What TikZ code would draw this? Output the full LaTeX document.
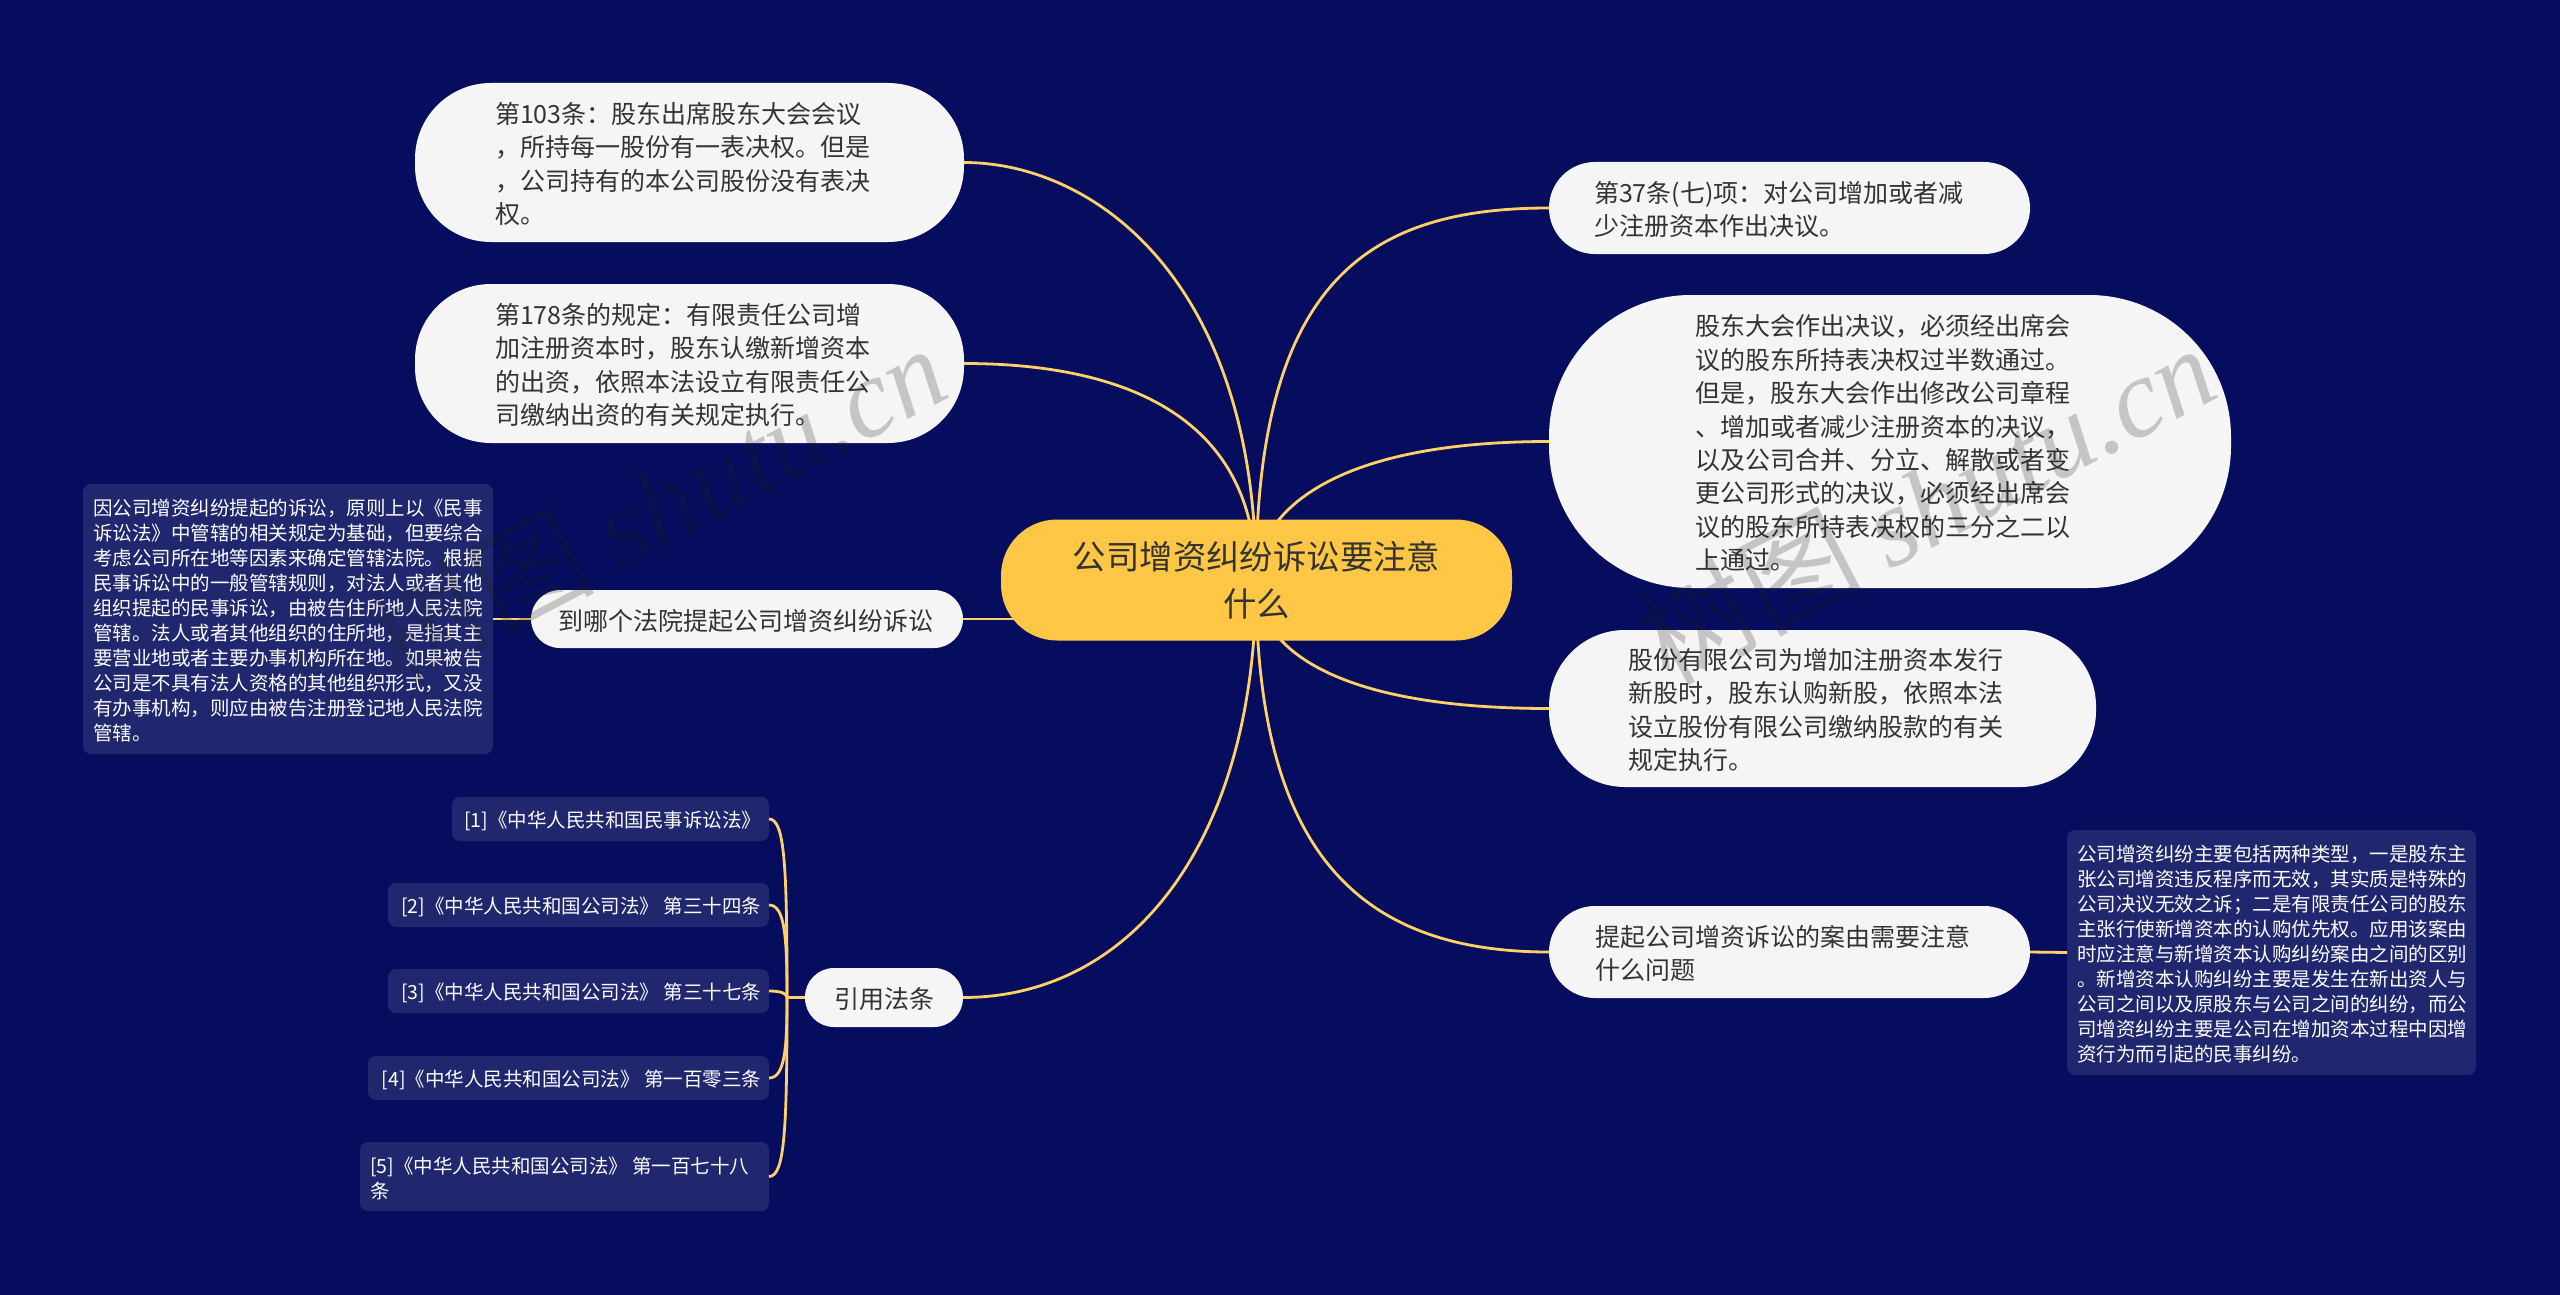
\documentclass[tikz,border=0pt]{standalone}
\usepackage{fontspec}
\setmainfont{Noto Sans CJK SC}
\newfontfamily\wmlatin{Liberation Serif}
\usetikzlibrary{calc}
\definecolor{bgnavy}{HTML}{060D5E}
\definecolor{rootgold}{HTML}{FFC745}
\definecolor{linegold}{HTML}{FFD166}
\definecolor{boxwhite}{HTML}{F5F5F5}
\definecolor{noteblue}{HTML}{20276F}
\definecolor{inkdark}{HTML}{333333}
\definecolor{wmgray}{HTML}{1E1E1E}
\tikzset{
  x=1pt,y=-1pt,
  base/.style={rectangle,inner sep=0pt,outer sep=0pt},
  pill/.style={base,fill=boxwhite,text=inkdark,font=\fontsize{25pt}{33.4pt}\selectfont},
  notebox/.style={base,fill=noteblue,text=white,rounded corners=8pt,font=\fontsize{19.5pt}{25pt}\selectfont},
  rootbox/.style={base,fill=rootgold,text=inkdark,rounded corners=56pt,align=center,font=\fontsize{33.4pt}{47pt}\selectfont},
  link/.style={draw=linegold,line width=2.8pt},
  wm/.style={rotate=27.7,text=wmgray,opacity=0.22,inner sep=0pt,font=\fontsize{112pt}{112pt}\selectfont},
}
% name, x1, y1, x2, y2, radius, pad, style, text
\newcommand{\bx}[9]{%
  \pgfmathsetmacro{\bw}{#4-#2}\pgfmathsetmacro{\bh}{#5-#3}\pgfmathsetmacro{\tw}{#4-#2-2*#7}%
  \node[#8,rounded corners=#6pt,minimum width=\bw pt,minimum height=\bh pt] (#1) at ({(#2+#4)/2},{(#3+#5)/2}) {\raisebox{-1.5pt}[\height][\depth]{\parbox[c]{\tw pt}{\raggedright #9}}};}
\begin{document}
\begin{tikzpicture}
\useasboundingbox[fill=bgnavy] (0,0) rectangle (2560,1295);

\bx{a}{415}{83}{964}{242}{76}{80}{pill}{第103条：股东出席股东大会会议\\，所持每一股份有一表决权。但是\\，公司持有的本公司股份没有表决\\权。}
\bx{b}{415}{284}{964}{443}{76}{80}{pill}{第178条的规定：有限责任公司增\\加注册资本时，股东认缴新增资本\\的出资，依照本法设立有限责任公\\司缴纳出资的有关规定执行。}
\bx{q}{531}{590}{963}{648}{29}{27}{pill}{到哪个法院提起公司增资纠纷诉讼}
\bx{qn}{83}{484}{493}{754}{8}{10}{notebox}{因公司增资纠纷提起的诉讼，原则上以《民事\\诉讼法》中管辖的相关规定为基础，但要综合\\考虑公司所在地等因素来确定管辖法院。根据\\民事诉讼中的一般管辖规则，对法人或者其他\\组织提起的民事诉讼，由被告住所地人民法院\\管辖。法人或者其他组织的住所地，是指其主\\要营业地或者主要办事机构所在地。如果被告\\公司是不具有法人资格的其他组织形式，又没\\有办事机构，则应由被告注册登记地人民法院\\管辖。}
\bx{refs}{805}{968}{963}{1027}{29}{29}{pill}{引用法条}
\bx{ra}{452}{797}{769}{841}{8}{8}{notebox}{\hfill[1]《中华人民共和国民事诉讼法》}
\bx{rb}{388}{883}{769}{927}{8}{8}{notebox}{\hfill[2]《中华人民共和国公司法》~第三十四条}
\bx{rc}{388}{969}{769}{1013}{8}{8}{notebox}{\hfill[3]《中华人民共和国公司法》~第三十七条}
\bx{rd}{368}{1056}{769}{1100}{8}{8}{notebox}{\hfill[4]《中华人民共和国公司法》~第一百零三条}
\bx{re}{360}{1142}{769}{1211}{8}{10}{notebox}{[5]《中华人民共和国公司法》 第一百七十八\\条}
\bx{c}{1549}{162}{2030}{254}{46}{45}{pill}{第37条(七)项：对公司增加或者减\\少注册资本作出决议。}
\bx{d}{1549}{295}{2231}{588}{142}{146}{pill}{股东大会作出决议，必须经出席会\\议的股东所持表决权过半数通过。\\但是，股东大会作出修改公司章程\\、增加或者减少注册资本的决议，\\以及公司合并、分立、解散或者变\\更公司形式的决议，必须经出席会\\议的股东所持表决权的三分之二以\\上通过。}
\bx{e}{1549}{630}{2096}{787}{76}{79}{pill}{股份有限公司为增加注册资本发行\\新股时，股东认购新股，依照本法\\设立股份有限公司缴纳股款的有关\\规定执行。}
\bx{f}{1549}{906}{2030}{998}{46}{46}{pill}{提起公司增资诉讼的案由需要注意\\什么问题}
\bx{fn}{2067}{830}{2476}{1075}{8}{10}{notebox}{公司增资纠纷主要包括两种类型，一是股东主\\张公司增资违反程序而无效，其实质是特殊的\\公司决议无效之诉；二是有限责任公司的股东\\主张行使新增资本的认购优先权。应用该案由\\时应注意与新增资本认购纠纷案由之间的区别\\。新增资本认购纠纷主要是发生在新出资人与\\公司之间以及原股东与公司之间的纠纷，而公\\司增资纠纷主要是公司在增加资本过程中因增\\资行为而引起的民事纠纷。}
\coordinate (rootc) at (1256,580);
\coordinate (hub) at ($(refs.west)+(-18,0)$);

\draw[link] (a.east) .. controls +(130,0) and +(0,-300) .. (rootc);
\draw[link] (b.east) .. controls +(150,0) and +(0,-170) .. (rootc);
\draw[link] (c.west) .. controls +(-180,0) and +(0,-300) .. (rootc);
\draw[link] (d.west) .. controls +(-230,0) and +(0,-60) .. (rootc);
\draw[link] (e.west) .. controls +(-230,0) and +(0,60) .. (rootc);
\draw[link] (f.west) .. controls +(-200,0) and +(0,260) .. (rootc);
\draw[link] (refs.east) .. controls +(170,0) and +(0,260) .. (rootc);
\draw[link] (q.east) -- (q.east -| rootc);
\draw[link] (q.west) -- (qn.east);
\draw[link] (f.east) -- (fn.west);
\draw[link] (refs.west) -- (hub);
\draw[link] (ra.east) .. controls +(16,0) and +(0,-130) .. (hub);
\draw[link] (rb.east) .. controls +(16,0) and +(0,-60) .. (hub);
\draw[link] (rc.east) .. controls +(12,0) and +(0,-4) .. (hub);
\draw[link] (rd.east) .. controls +(16,0) and +(0,50) .. (hub);
\draw[link] (re.east) .. controls +(16,0) and +(0,130) .. (hub);

\node[rootbox,minimum width=511pt,minimum height=121pt] (root) at (1256.5,580) {公司增资纠纷诉讼要注意\\什么};

\node[wm] (w1) at (657,503) {树图 {\wmlatin\itshape shutu.cn}};
\node[wm] (w2) at (1926,503) {树图 {\wmlatin\itshape shutu.cn}};
\end{tikzpicture}
\end{document}
